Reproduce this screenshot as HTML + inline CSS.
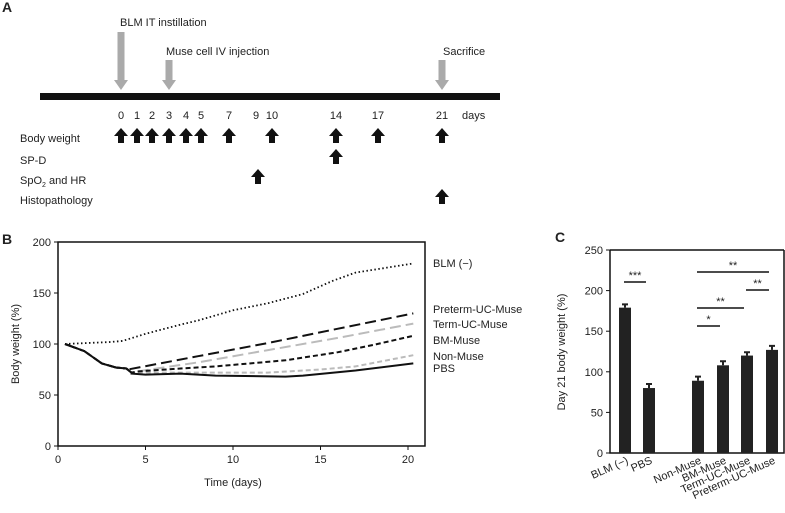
<!DOCTYPE html>
<html><head><meta charset="utf-8"><style>
body{margin:0;background:#fff}
svg{display:block;font-family:"Liberation Sans",Arial,sans-serif}
</style></head><body>
<svg id="fig" width="785" height="513" viewBox="0 0 785 513">
<g font-size="11" fill="#222">
  <text x="2" y="12" font-size="14" font-weight="bold">A</text>
  <rect x="40" y="93" width="460" height="7" fill="#111"/>
  <text x="120" y="26">BLM IT instillation</text>
  <text x="166" y="55">Muse cell IV injection</text>
  <text x="443" y="55">Sacrifice</text>
  <g id="grayArrows" fill="#aaa"></g>
  <g id="dayLabels" font-size="11"></g>
  <text x="462" y="119">days</text>
  <text x="20" y="142">Body weight</text>
  <text x="20" y="164">SP-D</text>
  <text x="20" y="184">SpO<tspan font-size="7" dy="3">2</tspan><tspan dy="-3"> and HR</tspan></text>
  <text x="20" y="204">Histopathology</text>
  <g id="blackArrows" fill="#111"></g>
</g>
<g font-size="11" fill="#222">
  <text x="2" y="244" font-size="14" font-weight="bold">B</text>
  <rect x="58" y="242" width="367" height="204" fill="none" stroke="#111" stroke-width="1.5"/>
  <g id="bAxes"></g>
  <text x="233" y="486" text-anchor="middle">Time (days)</text>
  <text transform="translate(19,344) rotate(-90)" text-anchor="middle">Body weight (%)</text>
  <g id="bLines"></g>
  <g id="bLegend" font-size="11"></g>
</g>
<g font-size="11" fill="#222">
  <text x="555" y="242" font-size="14" font-weight="bold">C</text>
  <g id="cAxes"></g>
  <text transform="translate(565,352) rotate(-90)" text-anchor="middle">Day 21 body weight (%)</text>
  <g id="cBars"></g>
  <g id="cSig"></g>
</g>
</svg>
<script>
const NS="http://www.w3.org/2000/svg";
function mk(tag,attrs,parent,txt){const e=document.createElementNS(NS,tag);for(const k in attrs)e.setAttribute(k,attrs[k]);if(txt!==undefined)e.textContent=txt;parent.appendChild(e);return e;}
// ---- Panel A data
const dayNumbers=[0,1,2,3,4,5,7,9,10,14,17,21];
const dayX=[121,137,152,169,186,201,229,256,272,336,378,442];
const bodyWeightDays=[0,1,2,3,4,5,7,10,14,17,21];
const spdDays=[14];
const spo2Days=[9];
const histoDays=[21];
const grayArrowDays=[{d:0,top:32},{d:3,top:60},{d:21,top:60}];
function dx(d){return dayX[dayNumbers.indexOf(d)]+(d===9?2:0);}
const dl=document.getElementById('dayLabels');
dayNumbers.forEach((d,i)=>{const t=mk('text',{x:dayX[i],y:119,'text-anchor':'middle'},dl,String(d));

});
const ga=document.getElementById('grayArrows');
grayArrowDays.forEach(a=>{const x=dx(a.d);const p=mk('path',{d:`M${x-3.5},${a.top}H${x+3.5}V80H${x+7}L${x},90L${x-7},80H${x-3.5}Z`},ga);

});
const ba=document.getElementById('blackArrows');
function up(x,top,name){const p=mk('path',{d:`M${x},${top}L${x+7},${top+8}H${x+3}V${top+15}H${x-3}V${top+8}H${x-7}Z`},ba);

}
bodyWeightDays.forEach(d=>up(dx(d),128,'body-weight-arrow-day-'+d));
spdDays.forEach(d=>up(dx(d),149,'sp-d-arrow-day-'+d));
spo2Days.forEach(d=>up(dx(d),169,'spo2-arrow-day-'+d));
histoDays.forEach(d=>up(dx(d),189,'histopathology-arrow-day-'+d));
// ---- Panel B data
const bXTicks=[0,5,10,15,20];
const bYTicks=[0,50,100,150,200];
const early=[[0.4,100],[1.5,93],[2.5,81],[3.3,77],[3.9,76],[4.2,72]];
const blmDays=[0.4,3,3.7,5,7,8,10,12,14,15.7,17,18.5,20.3];
const blmVals=[100,102,103,110,119,123,133,140,149,162,170,174,179];
const pretermDays=[4,8,12,16,20.3];const pretermVals=[75,88,101,115,130];
const termDays=[4.5,8,12,16,20.3];const termVals=[73,82,94,106,120];
const bmDays=[4.5,7,9,13,16,18,20.3];const bmVals=[73,76,78,84,92,99,108];
const nonDays=[4.5,8,12,15,17,20.3];const nonVals=[72,72,72,75,78,89];
const pbsDays=[4.2,5,7,9,13,14,17,20.3];const pbsVals=[71,70,71,69,68,69,74,81];
const bx=d=>58+d*17.5, by=v=>446-v*1.02;
const bA=document.getElementById('bAxes');
bXTicks.forEach(t=>{const l=mk('line',{x1:bx(t),x2:bx(t),y1:446,y2:450,stroke:'#111'},bA);

const tx=mk('text',{x:bx(t),y:463,'text-anchor':'middle'},bA,String(t));
});
bYTicks.forEach(t=>{const l=mk('line',{x1:54,x2:58,y1:by(t),y2:by(t),stroke:'#111'},bA);

const tx=mk('text',{x:51,y:by(t)+4,'text-anchor':'end'},bA,String(t));
});
const bL=document.getElementById('bLines');
function line(days,vals,withEarly,style,name){let pts=(withEarly?early:[]).map(p=>[p[0],p[1]]);days.forEach((d,i)=>pts.push([d,vals[i]]));
const p=mk('polyline',Object.assign({points:pts.map(p=>bx(p[0]).toFixed(1)+','+by(p[1]).toFixed(1)).join(' '),fill:'none'},style),bL);
}
line(nonDays,nonVals,true,{stroke:'#bbb','stroke-width':2,'stroke-dasharray':'5,3'},'line-non-muse');
line(termDays,termVals,true,{stroke:'#bbb','stroke-width':2,'stroke-dasharray':'11,5'},'line-term-uc-muse');
line(bmDays,bmVals,true,{stroke:'#111','stroke-width':2,'stroke-dasharray':'5,3'},'line-bm-muse');
line(pretermDays,pretermVals,true,{stroke:'#111','stroke-width':2,'stroke-dasharray':'11,5'},'line-preterm-uc-muse');
line(pbsDays,pbsVals,true,{stroke:'#111','stroke-width':2},'line-pbs');
line(blmDays,blmVals,false,{stroke:'#111','stroke-width':1.8,'stroke-dasharray':'1.5,2.5'},'line-blm-neg');
const legendNames=['BLM (−)','Preterm-UC-Muse','Term-UC-Muse','BM-Muse','Non-Muse','PBS'];
const legendY=[267,313,328,344,360,372];
const bG=document.getElementById('bLegend');
legendNames.forEach((n,i)=>{const t=mk('text',{x:433,y:legendY[i]},bG,n);
});
// ---- Panel C data
const cCats=['BLM (−)','PBS','Non-Muse','BM-Muse','Term-UC-Muse','Preterm-UC-Muse'];
const cVals=[179,80,89,108,120,127];
const cErr=[4,5,5,5,4,5];
const cXpos=[625,649,698,723,747,772];
const cYTicks=[0,50,100,150,200,250];
const sigStart=[0,2,4,2,2];const sigEnd=[1,5,5,4,3];
const sigLabels=['***','**','**','**','*'];
const sigY=[282,272,290,308,326];
const cy=v=>453-v*0.812;
const cA=document.getElementById('cAxes');
mk('polyline',{points:`610,${cy(250)} 610,453 784,453 784,${cy(250)}`,fill:'none',stroke:'#111','stroke-width':1.5,},cA);
mk('line',{x1:610,x2:784,y1:cy(250),y2:cy(250),stroke:'#111','stroke-width':1.5,},cA);
cYTicks.forEach(t=>{const l=mk('line',{x1:606,x2:610,y1:cy(t),y2:cy(t),stroke:'#111'},cA);

const tx=mk('text',{x:603,y:cy(t)+4,'text-anchor':'end'},cA,String(t));
});
const cB=document.getElementById('cBars');
cCats.forEach((c,i)=>{const x=cXpos[i];
const r=mk('rect',{x:x-6,y:cy(cVals[i]),width:12,height:453-cy(cVals[i]),fill:'#222'},cB);

const e=mk('path',{d:`M${x},${cy(cVals[i])}V${cy(cVals[i]+cErr[i])}M${x-3},${cy(cVals[i]+cErr[i])}H${x+3}`,stroke:'#222','stroke-width':2},cB);

const t=mk('text',{x:x+4,y:463,'text-anchor':'end',transform:`rotate(-24 ${x+4} 463)`},cB,c);
});
const cS=document.getElementById('cSig');
sigLabels.forEach((s,i)=>{const x1=cXpos[sigStart[i]]-1,x2=cXpos[sigEnd[i]]-3;
const l=mk('line',{x1:x1,x2:x2,y1:sigY[i],y2:sigY[i],stroke:'#111','stroke-width':1.5},cS);

const t=mk('text',{x:(x1+x2)/2,y:sigY[i]-3,'text-anchor':'middle','font-size':11},cS,s);
});
</script>
</body></html>
